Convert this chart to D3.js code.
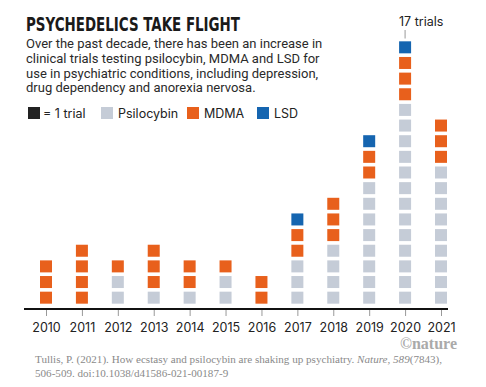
<!DOCTYPE html>
<html>
<head>
<meta charset="utf-8">
<script src="https://cdn.jsdelivr.net/npm/d3@7"></script>
<style>
  body { margin: 0; background: #fff; }
  svg { display: block; }
</style>
</head>
<body>
<div id="chart"></div>
<script>
// trial counts per year
const years = ["2010", "2011", "2012", "2013", "2014", "2015", "2016", "2017", "2018", "2019", "2020", "2021"];
const psilocybin = [0, 0, 2, 1, 1, 2, 0, 3, 4, 8, 13, 9];
const mdma = [3, 4, 1, 3, 2, 1, 2, 2, 3, 2, 3, 3];
const lsd = [0, 0, 0, 0, 0, 0, 0, 1, 0, 1, 1, 0];

const seriesNames = ["Psilocybin", "MDMA", "LSD"];
const colors = { Psilocybin: "#c5ccd7", MDMA: "#e8601c", LSD: "#1565b0" };

const subtitle = [
    "Over the past decade, there has been an increase in",
    "clinical trials testing psilocybin, MDMA and LSD for",
    "use in psychiatric conditions, including depression,",
    "drug dependency and anorexia nervosa."
];

const width = 486, height = 387;
const sans = "Inter, 'Noto Sans', sans-serif";

const svg = d3.select("#chart").append("svg")
    .attr("width", width)
    .attr("height", height);

// title + subtitle
svg.append("text")
    .attr("x", 26).attr("y", 31)
    .attr("font-family", "'DejaVu Sans Condensed', 'Liberation Sans Narrow', sans-serif")
    .attr("font-weight", "bold")
    .attr("font-size", 20)
    .attr("textLength", 214)
    .attr("lengthAdjust", "spacingAndGlyphs")
    .attr("fill", "#1a1a1a")
    .text("PSYCHEDELICS TAKE FLIGHT");

svg.append("g").selectAll("text")
    .data(subtitle)
    .join("text")
    .attr("x", 26)
    .attr("y", (d, i) => 48 + i * 14.8)
    .attr("font-family", "Roboto, sans-serif")
    .attr("font-weight", 400)
    .attr("font-size", 13)
    .attr("fill", "#2a2a2a")
    .text(d => d);

// legend
const legendItems = [
    { label: "= 1 trial", color: "#222", x: 28 },
    { label: "Psilocybin", color: colors.Psilocybin, x: 101 },
    { label: "MDMA", color: colors.MDMA, x: 187 },
    { label: "LSD", color: colors.LSD, x: 257 }
];
const legend = svg.append("g").selectAll("g")
    .data(legendItems)
    .join("g")
    .attr("transform", d => `translate(${d.x},107)`);
legend.append("rect")
    .attr("width", 12).attr("height", 12)
    .attr("fill", d => d.color);
legend.append("text")
    .attr("x", d => d.label.startsWith("=") ? 15 : 17)
    .attr("y", 10.5)
    .attr("font-family", sans)
    .attr("font-weight", 400)
    .attr("font-size", 12.5)
    .attr("fill", "#222")
    .text(d => d.label);

// scales
const x = d3.scalePoint().domain(years).range([46, 441]);
const y = d3.scaleLinear().domain([0, 17]).range([305.5, 39.5]);

// one square per trial, stacked psilocybin -> MDMA -> LSD
const squares = [];
years.forEach((yr, i) => {
    const counts = [psilocybin[i], mdma[i], lsd[i]];
    let level = 0;
    counts.forEach((n, s) => {
        for (let k = 0; k < n; k++) {
            squares.push({ year: yr, level: level, series: seriesNames[s] });
            level++;
        }
    });
});

const size = 12;
svg.append("g").selectAll("rect")
    .data(squares)
    .join("rect")
    .attr("x", d => x(d.year) - size / 2)
    .attr("y", d => (y(d.level) + y(d.level + 1)) / 2 - size / 2)
    .attr("width", size)
    .attr("height", size)
    .attr("fill", d => colors[d.series]);

// axis
const axis = svg.append("g")
    .attr("transform", "translate(0,309)")
    .call(d3.axisBottom(x).tickSize(7).tickPadding(7));
axis.select(".domain").remove();
axis.selectAll(".tick line").attr("stroke", "#999").attr("y1", 1);
axis.selectAll(".tick text")
    .attr("font-family", sans)
    .attr("font-weight", 400)
    .attr("font-size", 12.5)
    .attr("fill", "#222");
axis.append("line")
    .attr("x1", 24).attr("x2", 448)
    .attr("stroke", "#111")
    .attr("stroke-width", 2);

// 17 trials annotation
const topYear = "2020";
const total2020 = psilocybin[10] + mdma[10] + lsd[10];
svg.append("line")
    .attr("x1", x(topYear)).attr("x2", x(topYear))
    .attr("y1", 30).attr("y2", y(total2020) - 1)
    .attr("stroke", "#999");
svg.append("text")
    .attr("x", 399).attr("y", 26)
    .attr("font-family", sans)
    .attr("font-weight", 400)
    .attr("font-size", 12.5)
    .attr("fill", "#222")
    .text(`${total2020} trials`);

// credit + citation
svg.append("text")
    .attr("x", 457).attr("y", 349)
    .attr("text-anchor", "end")
    .attr("font-family", "'Liberation Serif', serif")
    .attr("font-weight", "bold")
    .attr("font-size", 16)
    .attr("fill", "#aaa")
    .text("©nature");

const cite = svg.append("text")
    .attr("font-family", "'Liberation Serif', 'DejaVu Serif', serif")
    .attr("font-size", 11.1)
    .attr("fill", "#8a8a8a");
const line1 = cite.append("tspan").attr("x", 35).attr("y", 363);
line1.append("tspan").text("Tullis, P. (2021). How ecstasy and psilocybin are shaking up psychiatry. ");
line1.append("tspan").attr("font-style", "italic").text("Nature, 589");
line1.append("tspan").text("(7843),");
cite.append("tspan").attr("x", 35).attr("y", 377).text("506-509. doi:10.1038/d41586-021-00187-9");
</script>
</body>
</html>
